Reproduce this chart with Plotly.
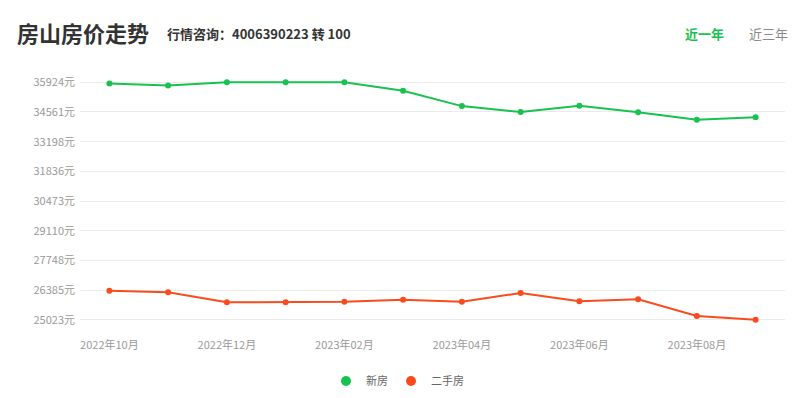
import plotly.graph_objects as go

months = ["2022年10月", "2022年11月", "2022年12月", "2023年01月", "2023年02月", "2023年03月",
          "2023年04月", "2023年05月", "2023年06月", "2023年07月", "2023年08月", "2023年09月"]
new_house = [35864, 35774, 35924, 35924, 35924, 35535, 34831, 34561, 34846, 34546, 34202, 34321]
second_house = [26354, 26278, 25819, 25819, 25849, 25941, 25849, 26247, 25865, 25957, 25191, 25023]
y_ticks = [25023, 26385, 27748, 29110, 30473, 31836, 33198, 34561, 35924]
y_tick_text = [f"{v}元" for v in y_ticks]
x_tick_show = ["2022年10月", "2022年12月", "2023年02月", "2023年04月", "2023年06月", "2023年08月"]

GREEN = "#17c24f"
RED = "#fb4a1c"
FONT = "Noto Sans CJK SC"

OFF = 8  # page body margin
W, H = 800 - OFF, 398 - OFF
# plot area in page coordinates: x 80..785, y 81..321
L, T = 80 - OFF, 81 - OFF
R = W - (785 - OFF)
B = H - (321 - OFF)
PW, PH = W - L - R, H - T - B


def px(x):
    return (x - OFF - L) / PW


def py(y):
    return (H - B - (y - OFF)) / PH


fig = go.Figure()
fig.add_trace(go.Scatter(x=months, y=new_house, name="新房", mode="lines+markers",
                         line=dict(color=GREEN, width=2), marker=dict(size=6, color=GREEN),
                         cliponaxis=False, showlegend=False))
fig.add_trace(go.Scatter(x=months, y=second_house, name="二手房", mode="lines+markers",
                         line=dict(color=RED, width=2), marker=dict(size=6, color=RED),
                         cliponaxis=False, showlegend=False))
# legend-only entries (dot symbols)
fig.add_trace(go.Scatter(x=[None], y=[None], name="新房", mode="markers",
                         marker=dict(size=10, color=GREEN), legend="legend"))
fig.add_trace(go.Scatter(x=[None], y=[None], name="二手房", mode="markers",
                         marker=dict(size=10, color=RED), legend="legend2"))

pad = 60
leg_common = dict(orientation="h", xanchor="left", y=py(381), yanchor="middle",
                  font=dict(size=11, color="#666"), bgcolor="rgba(0,0,0,0)")
fig.update_layout(
    width=W, height=H,
    margin=dict(l=L, r=R, t=T, b=B, autoexpand=False),
    paper_bgcolor="white", plot_bgcolor="white",
    font=dict(family=FONT, size=11, color="#999"),
    showlegend=True,
    legend=dict(x=px(326), **leg_common),
    legend2=dict(x=px(391), **leg_common),
    xaxis=dict(type="category", showgrid=False, zeroline=False, showline=False,
               tickmode="array", tickvals=x_tick_show, ticktext=x_tick_show,
               tickfont=dict(size=11, color="#999"), ticks="outside", ticklen=14,
               tickcolor="rgba(0,0,0,0)", range=[-0.5, 11.5]),
    yaxis=dict(range=[25023 - pad, 35924 + pad], tickmode="array", tickvals=y_ticks,
               ticktext=y_tick_text,
               showgrid=True, gridcolor="#ebebeb", gridwidth=1, zeroline=False, showline=False,
               tickfont=dict(size=11, color="#999"), ticks="", ticklabelstandoff=4),
    annotations=[
        dict(text="<b>房山房价走势</b>", x=px(15), y=py(32), xref="paper", yref="paper",
             showarrow=False, xanchor="left", yanchor="middle",
             font=dict(size=22, color="#333", family=FONT)),
        dict(text="<b>行情咨询：4006390223 转 100</b>", x=px(165), y=py(33), xref="paper",
             yref="paper", showarrow=False, xanchor="left", yanchor="middle",
             font=dict(size=13, color="#333", family=FONT)),
        dict(text="<b>近一年</b>", x=px(683), y=py(33), xref="paper", yref="paper",
             showarrow=False, xanchor="left", yanchor="middle",
             font=dict(size=13, color=GREEN, family=FONT)),
        dict(text="近三年", x=px(747), y=py(33), xref="paper", yref="paper",
             showarrow=False, xanchor="left", yanchor="middle",
             font=dict(size=13, color="#888", family=FONT)),
    ],
)

fig.write_html("out.html")
